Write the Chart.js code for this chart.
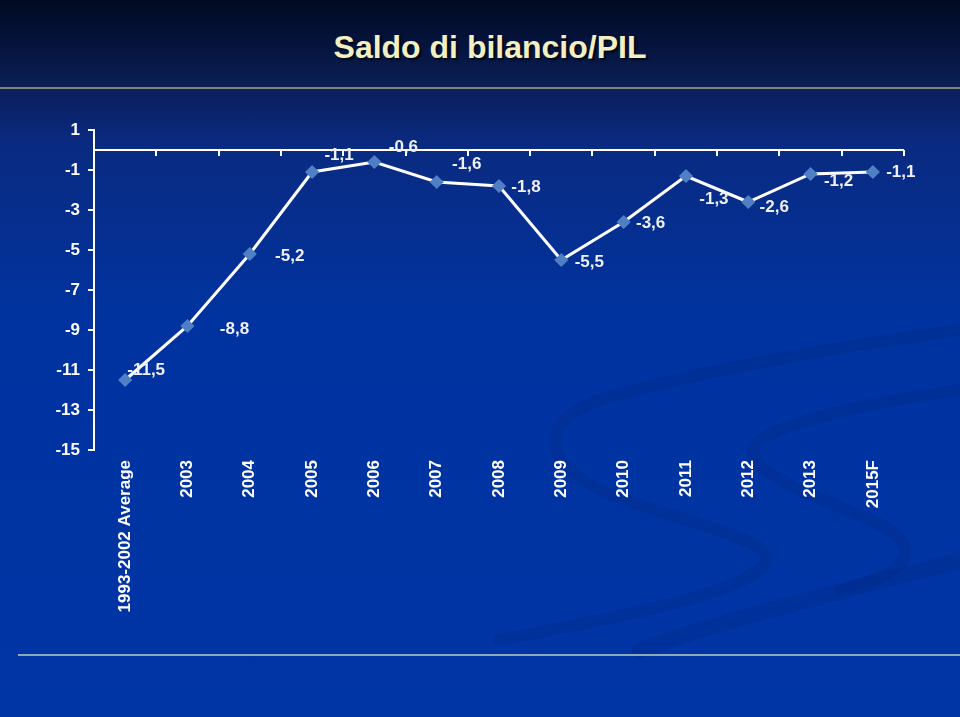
<!DOCTYPE html>
<html>
<head>
<meta charset="utf-8">
<script src="https://cdn.jsdelivr.net/npm/chart.js@4.4.0/dist/chart.umd.min.js"></script>
<style>
  html, body { margin: 0; padding: 0; }
  body {
    width: 960px; height: 717px; overflow: hidden; position: relative;
    background: linear-gradient(180deg, #000a22 0px, #05123a 40px, #0b1f55 86px, #0a1f5c 90px, #0a2a80 140px, #0033a0 320px, #0035a6 717px);
    font-family: "Liberation Sans", Arial, sans-serif;
  }
  #title {
    position: absolute; left: 0; top: 29px; width: 980px; text-align: center;
    font-size: 32px; font-weight: bold; color: #f3efc2;
    text-shadow: 2px 2px 2px rgba(0,0,0,0.7);
  }
  #topLine { position: absolute; left: 0; right: 0; top: 87px; height: 2px; background: #7e8578; }
  #baseLine { position: absolute; left: 18px; right: 0; top: 654px; height: 2px; background: #8ea9b6; }
  #deco { position: absolute; left: 0; top: 0; }
  #wrap { position: absolute; left: 0; top: 0; width: 960px; height: 717px; }
</style>
</head>
<body>
<svg id="deco" width="960" height="717">
  <g fill="none" stroke="#00287f" stroke-opacity="0.28" stroke-linecap="round">
    <path d="M 960 330 C 850 345, 700 370, 600 400 C 540 420, 540 460, 600 490 C 700 530, 790 540, 760 570 C 720 600, 600 620, 500 640" stroke-width="12"/>
    <path d="M 960 390 C 880 400, 790 420, 760 440 C 730 465, 800 490, 870 520 C 930 545, 910 575, 840 590" stroke-width="12"/>
    <path d="M 960 560 C 850 590, 720 620, 640 650" stroke-width="16"/>
  </g>
</svg>
<div id="title">Saldo di bilancio/PIL</div>
<div id="topLine"></div>
<div id="baseLine"></div>
<div id="wrap"><canvas id="saldoChart" width="960" height="717"></canvas></div>
<script>
// categorie e valori (saldo di bilancio in % del PIL)
const categories = ["1993-2002 Average", "2003", "2004", "2005", "2006", "2007", "2008",
  "2009", "2010", "2011", "2012", "2013", "2015F"];
const saldo = [-11.5, -8.8, -5.2, -1.1, -0.6, -1.6, -1.8, -5.5, -3.6, -1.3, -2.6, -1.2, -1.1];
const yTicks = [1, -1, -3, -5, -7, -9, -11, -13, -15];

// spostamento delle etichette rispetto al punto (px)
const labelShift = [[21, -10], [47, 3], [40, 2], [27, -17], [29, -15], [30, -18], [27, 1],
  [28, 2], [27, 1], [28, 23], [26, 5], [28, 7], [28, 0]];

const fmt = v => String(v).replace(".", ",");
const FONT = "'Liberation Sans', Arial, sans-serif";

// linea dello zero con le tacche tra le categorie
const zeroLine = {
  id: "zeroLine",
  beforeDatasetsDraw(chart) {
    const { ctx, scales: { x, y } } = chart;
    const py = Math.round(y.getPixelForValue(0));
    const half = (x.getPixelForValue(1) - x.getPixelForValue(0)) / 2;
    ctx.save();
    ctx.strokeStyle = "#ffffff";
    ctx.lineWidth = 2;
    ctx.beginPath();
    ctx.moveTo(x.left, py);
    ctx.lineTo(x.right, py);
    for (let i = 0; i < categories.length; i++) {
      const px = Math.round(x.getPixelForValue(i) + half);
      ctx.moveTo(px, py);
      ctx.lineTo(px, py + 6);
    }
    ctx.stroke();
    ctx.restore();
  }
};

// etichette dei valori
const valueLabels = {
  id: "valueLabels",
  afterDatasetsDraw(chart) {
    const { ctx } = chart;
    const meta = chart.getDatasetMeta(0);
    ctx.save();
    ctx.font = "bold 17px " + FONT;
    ctx.fillStyle = "#eef0f6";
    ctx.textAlign = "center";
    ctx.textBaseline = "middle";
    meta.data.forEach((pt, i) => {
      const [dx, dy] = labelShift[i];
      ctx.fillText(fmt(saldo[i]), pt.x + dx, pt.y + dy);
    });
    ctx.restore();
  }
};

new Chart(document.getElementById("saldoChart"), {
  type: "line",
  data: {
    labels: categories,
    datasets: [{
      data: saldo,
      borderColor: "#ffffff",
      borderWidth: 3,
      pointStyle: "rectRot",
      pointRadius: 5,
      pointBackgroundColor: "#4f7fc4",
      pointBorderColor: "#4f7fc4",
      tension: 0
    }]
  },
  options: {
    responsive: false,
    animation: false,
    layout: { padding: { top: 130, left: 0, right: 56, bottom: 0 } },
    plugins: { legend: { display: false }, tooltip: { enabled: false } },
    scales: {
      x: {
        offset: true,
        grid: { display: false },
        border: { display: false },
        ticks: {
          color: "#ffffff",
          font: { family: FONT, size: 17, weight: "bold" },
          minRotation: 90, maxRotation: 90, padding: 2, autoSkip: false
        },
        afterFit: s => { s.height = 267; }
      },
      y: {
        min: -15, max: 1,
        afterBuildTicks: s => { s.ticks = yTicks.map(v => ({ value: v })); },
        grid: { drawOnChartArea: false, color: "#ffffff", lineWidth: 2, tickLength: 6 },
        border: { color: "#ffffff", width: 2 },
        ticks: {
          color: "#ffffff",
          font: { family: FONT, size: 17, weight: "bold" },
          padding: 8
        },
        afterFit: s => { s.width = 94; }
      }
    }
  },
  plugins: [zeroLine, valueLabels]
});
</script>
</body>
</html>
